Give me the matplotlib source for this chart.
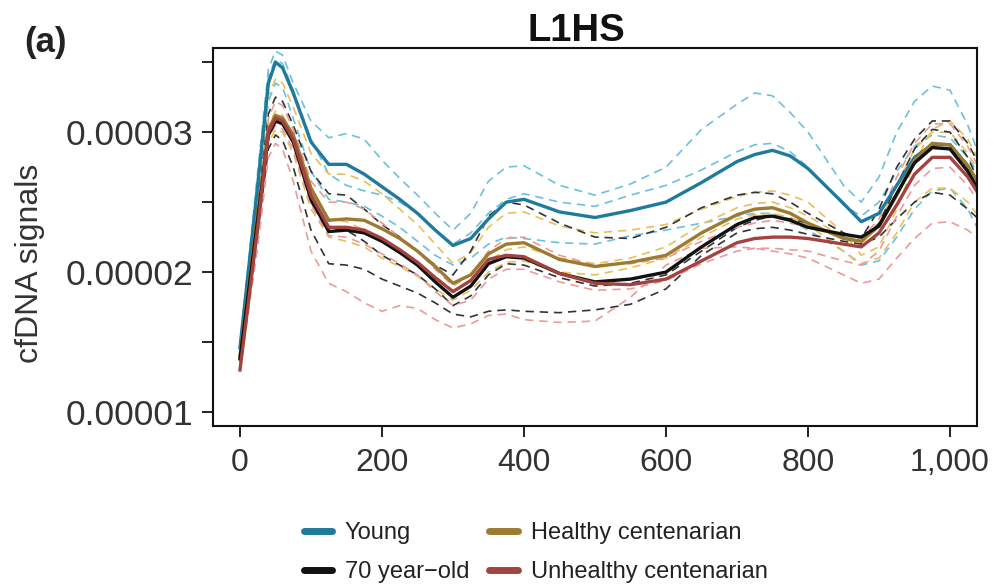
import numpy as np
import matplotlib
matplotlib.use("Agg")
import matplotlib.pyplot as plt
from matplotlib.lines import Line2D

plt.rcParams['font.family'] = ['Liberation Sans', 'DejaVu Sans']

# position along the element (bp) and signal values in units of 1e-5
pos = [0, 25, 40, 50, 60, 75, 100, 125, 150, 175, 200, 225, 250, 275, 300, 325, 350, 375, 400,
       450, 500, 550, 600, 650, 700, 725, 750, 775, 800, 850, 875, 900, 925, 950, 975, 1000, 1025, 1040]

young = [1.46, 2.62, 3.35, 3.50, 3.46, 3.28, 2.93, 2.77, 2.77, 2.70, 2.61, 2.52, 2.42, 2.30, 2.19, 2.24, 2.38, 2.50, 2.52,
         2.43, 2.39, 2.44, 2.50, 2.64, 2.79, 2.84, 2.87, 2.83, 2.74, 2.49, 2.36, 2.42, 2.62, 2.82, 2.91, 2.91, 2.76, 2.62]
healthy = [1.40, 2.42, 3.02, 3.12, 3.10, 2.98, 2.60, 2.37, 2.38, 2.37, 2.31, 2.24, 2.15, 2.04, 1.92, 1.98, 2.13, 2.20, 2.21,
           2.09, 2.04, 2.07, 2.12, 2.28, 2.41, 2.45, 2.46, 2.42, 2.35, 2.24, 2.22, 2.33, 2.55, 2.80, 2.92, 2.91, 2.76, 2.64]
seventy = [1.38, 2.38, 2.98, 3.08, 3.06, 2.93, 2.52, 2.29, 2.30, 2.28, 2.22, 2.14, 2.05, 1.93, 1.82, 1.90, 2.06, 2.11, 2.10,
           1.99, 1.93, 1.95, 2.00, 2.18, 2.34, 2.39, 2.40, 2.37, 2.32, 2.27, 2.25, 2.33, 2.56, 2.78, 2.89, 2.88, 2.72, 2.58]
unhealthy = [1.30, 2.32, 3.00, 3.10, 3.08, 2.95, 2.55, 2.32, 2.32, 2.30, 2.24, 2.16, 2.07, 1.96, 1.86, 1.94, 2.09, 2.12, 2.11,
             1.99, 1.92, 1.91, 1.95, 2.08, 2.21, 2.24, 2.25, 2.25, 2.24, 2.20, 2.18, 2.28, 2.48, 2.70, 2.82, 2.82, 2.68, 2.56]

# individual samples (dashed)
young_s1 = [1.48, 2.72, 3.45, 3.58, 3.55, 3.35, 3.08, 2.96, 2.99, 2.95, 2.80, 2.67, 2.55, 2.42, 2.30, 2.42, 2.65, 2.75, 2.76,
            2.62, 2.55, 2.63, 2.75, 3.02, 3.20, 3.28, 3.26, 3.14, 3.00, 2.62, 2.50, 2.68, 3.00, 3.22, 3.33, 3.30, 3.05, 2.85]
young_s2 = [1.45, 2.68, 3.40, 3.52, 3.49, 3.30, 2.95, 2.70, 2.62, 2.58, 2.55, 2.50, 2.42, 2.30, 2.20, 2.28, 2.42, 2.52, 2.56,
            2.50, 2.47, 2.55, 2.62, 2.73, 2.86, 2.91, 2.92, 2.86, 2.75, 2.48, 2.40, 2.50, 2.72, 2.90, 2.98, 2.96, 2.82, 2.70]
young_s3 = [1.42, 2.52, 3.22, 3.35, 3.32, 3.10, 2.72, 2.52, 2.50, 2.47, 2.40, 2.32, 2.22, 2.12, 2.05, 2.10, 2.20, 2.25, 2.24,
            2.21, 2.20, 2.26, 2.30, 2.35, 2.40, 2.42, 2.42, 2.37, 2.30, 2.15, 2.05, 2.08, 2.25, 2.45, 2.58, 2.60, 2.45, 2.30]
healthy_s1 = [1.42, 2.58, 3.26, 3.38, 3.35, 3.18, 2.85, 2.70, 2.70, 2.65, 2.56, 2.45, 2.34, 2.20, 2.06, 2.14, 2.32, 2.42, 2.43,
              2.33, 2.28, 2.30, 2.34, 2.45, 2.54, 2.57, 2.58, 2.55, 2.50, 2.28, 2.12, 2.18, 2.45, 2.78, 3.02, 3.08, 2.95, 2.80]
healthy_s2 = [1.40, 2.43, 3.05, 3.15, 3.12, 2.98, 2.58, 2.38, 2.36, 2.30, 2.22, 2.15, 2.06, 1.97, 1.87, 1.94, 2.08, 2.16, 2.18,
              2.10, 2.06, 2.10, 2.18, 2.34, 2.46, 2.49, 2.50, 2.46, 2.40, 2.25, 2.20, 2.35, 2.62, 2.88, 3.00, 3.00, 2.85, 2.72]
healthy_s3 = [1.36, 2.33, 2.92, 3.02, 3.00, 2.85, 2.45, 2.25, 2.22, 2.18, 2.10, 2.04, 1.97, 1.88, 1.80, 1.87, 2.00, 2.07, 2.08,
              2.00, 1.98, 2.03, 2.10, 2.25, 2.38, 2.41, 2.42, 2.39, 2.34, 2.15, 2.06, 2.10, 2.28, 2.50, 2.60, 2.60, 2.50, 2.40]
seventy_s1 = [1.40, 2.48, 3.13, 3.25, 3.22, 3.05, 2.72, 2.56, 2.55, 2.45, 2.34, 2.25, 2.15, 2.05, 1.98, 2.15, 2.40, 2.50, 2.48,
              2.35, 2.25, 2.24, 2.32, 2.46, 2.55, 2.57, 2.56, 2.50, 2.42, 2.28, 2.24, 2.45, 2.75, 2.95, 3.08, 3.08, 2.92, 2.78]
seventy_s2 = [1.36, 2.28, 2.88, 2.98, 2.94, 2.75, 2.30, 2.06, 2.05, 2.02, 1.95, 1.90, 1.85, 1.78, 1.70, 1.68, 1.72, 1.73, 1.72,
              1.71, 1.73, 1.77, 1.88, 2.12, 2.28, 2.31, 2.32, 2.30, 2.27, 2.22, 2.20, 2.25, 2.38, 2.50, 2.57, 2.55, 2.45, 2.38]
seventy_s3 = [1.38, 2.40, 3.02, 3.12, 3.09, 2.95, 2.50, 2.30, 2.30, 2.22, 2.12, 2.05, 1.98, 1.88, 1.76, 1.83, 1.98, 2.06, 2.05,
              1.96, 1.90, 1.92, 1.98, 2.15, 2.32, 2.37, 2.40, 2.38, 2.35, 2.25, 2.22, 2.35, 2.62, 2.88, 3.02, 3.00, 2.82, 2.65]
unhealthy_s1 = [1.30, 2.18, 2.82, 2.92, 2.88, 2.65, 2.15, 1.92, 1.86, 1.78, 1.72, 1.76, 1.74, 1.66, 1.60, 1.63, 1.69, 1.70, 1.66,
                1.64, 1.65, 1.82, 2.05, 2.17, 2.18, 2.17, 2.15, 2.13, 2.10, 1.98, 1.92, 1.95, 2.10, 2.24, 2.35, 2.36, 2.30, 2.24]
unhealthy_s2 = [1.34, 2.43, 3.10, 3.22, 3.19, 3.02, 2.65, 2.50, 2.50, 2.45, 2.35, 2.25, 2.15, 2.02, 1.90, 1.98, 2.15, 2.24, 2.25,
                2.12, 2.05, 2.06, 2.10, 2.22, 2.32, 2.35, 2.37, 2.35, 2.32, 2.25, 2.24, 2.38, 2.68, 2.92, 3.06, 3.06, 2.90, 2.75]
unhealthy_s3 = [1.30, 2.30, 2.95, 3.05, 3.02, 2.88, 2.48, 2.26, 2.25, 2.20, 2.13, 2.06, 1.98, 1.86, 1.76, 1.80, 1.95, 2.02, 2.02,
                1.93, 1.87, 1.88, 1.94, 2.06, 2.15, 2.17, 2.17, 2.16, 2.15, 2.08, 2.05, 2.15, 2.40, 2.62, 2.74, 2.75, 2.62, 2.50]

scale = 1e-5
x = np.array(pos)

c_young, c_young_l = '#1f7a9c', '#6cc0df'
c_healthy, c_healthy_l = '#9c7a30', '#e8bf5c'
c_seventy, c_seventy_l = '#111111', '#333333'
c_unhealthy, c_unhealthy_l = '#a2433f', '#eb9b97'

fig = plt.figure(figsize=(10, 5.88), dpi=100)
ax = fig.add_axes([0.213, 0.2755, 0.764, 0.6425])

dashed = [(young_s1, c_young_l), (young_s2, c_young_l), (young_s3, c_young_l),
          (healthy_s1, c_healthy_l), (healthy_s2, c_healthy_l), (healthy_s3, c_healthy_l),
          (seventy_s1, c_seventy_l), (seventy_s2, c_seventy_l), (seventy_s3, c_seventy_l),
          (unhealthy_s1, c_unhealthy_l), (unhealthy_s2, c_unhealthy_l), (unhealthy_s3, c_unhealthy_l)]
for vals, col in dashed:
    ax.plot(x, np.array(vals) * scale, color=col, lw=1.2, ls=(0, (5, 3.5)))

solid = [(young, c_young), (healthy, c_healthy), (seventy, c_seventy), (unhealthy, c_unhealthy)]
for vals, col in solid:
    ax.plot(x, np.array(vals) * scale, color=col, lw=2.4, solid_joinstyle='round')

ax.set_xlim(-38, 1038)
ax.set_ylim(0.9e-5, 3.6e-5)
ax.set_xticks([0, 200, 400, 600, 800, 1000])
ax.set_xticklabels(['0', '200', '400', '600', '800', '1,000'])
yt = [1e-5, 1.5e-5, 2e-5, 2.5e-5, 3e-5, 3.5e-5]
ax.set_yticks(yt)
ax.set_yticklabels(['0.00001', '', '0.00002', '', '0.00003', ''])
ax.tick_params(axis='both', direction='out', length=8, width=1.4,
               colors='#222222', labelcolor='#333333')
ax.tick_params(axis='x', pad=8, labelsize=23)
ax.tick_params(axis='y', pad=6, labelsize=25.5)
for sp in ax.spines.values():
    sp.set_linewidth(1.5)
    sp.set_color('#111111')

ax.set_ylabel('cfDNA signals', fontsize=23, color='#333333')
ax.yaxis.set_label_coords(-0.22, 0.43)
fig.text(0.576, 0.948, 'L1HS', fontsize=27.5, fontweight='bold', ha='center', va='center', color='#111111')
fig.text(0.024, 0.927, '(a)', fontsize=25, fontweight='bold', ha='left', va='center', color='#222222')

handles = [Line2D([], [], color=c_young, lw=5, solid_capstyle='round'),
           Line2D([], [], color=c_seventy, lw=5, solid_capstyle='round'),
           Line2D([], [], color=c_healthy, lw=5, solid_capstyle='round'),
           Line2D([], [], color=c_unhealthy, lw=5, solid_capstyle='round')]
labels = ['Young', '70 year\u2212old', 'Healthy centenarian', 'Unhealthy centenarian']
fig.legend(handles, labels, loc='center left', bbox_to_anchor=(0.3035, 0.060), ncol=2,
           frameon=False, handlelength=1.2, handletextpad=0.55, columnspacing=0.85,
           labelspacing=0.7, borderpad=0, borderaxespad=0,
           prop={'family': ['Liberation Sans'], 'size': 17}, labelcolor='#222222')

fig.savefig('out.png', dpi=100)
